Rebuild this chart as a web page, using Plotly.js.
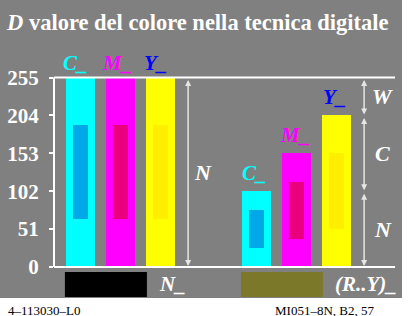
<!DOCTYPE html>
<html><head><meta charset="utf-8">
<script src="https://cdn.plot.ly/plotly-3.0.1.min.js"></script>
<style>html,body{margin:0;padding:0;background:#fff;overflow:hidden}</style>
</head><body><div id="chart" style="width:413px;height:316px"></div>
<script>
// ---- data ----
const barX = [0, 1, 2, 4.4, 5.4, 6.4];
const barValues = [255, 255, 255, 102, 153, 204];
const barColors = ['#00FFFF', '#FF00FF', '#FFFF00', '#00FFFF', '#FF00FF', '#FFFF00'];
const innerLow = [64, 64, 64, 25.5, 38, 51];
const innerHigh = [191, 191, 191, 76.5, 115, 153];
const innerColors = ['#00A8E8', '#E8007E', '#FFEE00', '#00A8E8', '#E8007E', '#FFEE00'];
const yTicks = [0, 51, 102, 153, 204, 255];
const barLabels = ['C_', 'M_', 'Y_'];
const barLabelColors = ['#00FFFF', '#FF00FF', '#0000FF'];
const rightSegments = [[204, 255, 'W'], [102, 204, 'C'], [0, 102, 'N']];
const swatchLabels = ['N_', '(R..Y)_'];
const swatchColors = ['#000000', '#7B782A'];

const SERIF = 'Liberation Serif';
const innerBase = innerLow;
const innerHeight = innerHigh.map((h, i) => h - innerLow[i]);

const traces = [
  {type: 'bar', x: barX, y: barValues, width: 0.725,
   marker: {color: barColors, line: {width: 0}}, hoverinfo: 'skip'},
  {type: 'bar', x: barX, y: innerHeight, base: innerBase, width: 0.375,
   marker: {color: innerColors, line: {width: 0}}, hoverinfo: 'skip'}
];

const shapes = [
  {type: 'rect', xref: 'paper', yref: 'paper', x0: 1.0205, x1: 1.2, y0: -0.2, y1: 1.4,
   fillcolor: '#FFFFFF', line: {width: 0}, layer: 'below'},
  {type: 'rect', xref: 'paper', yref: 'paper', x0: -0.3, x1: 1.2, y0: -0.2, y1: 0,
   fillcolor: '#FFFFFF', line: {width: 0}, layer: 'below'},
  {type: 'line', xref: 'paper', yref: 'y', x0: 0, x1: 1, y0: 0, y1: 0, line: {color: '#FFFFFF', width: 2}},
  {type: 'line', xref: 'paper', yref: 'y', x0: 0, x1: 1, y0: 255, y1: 255, line: {color: '#FFFFFF', width: 2}},
  {type: 'line', xref: 'paper', yref: 'y', x0: 0, x1: 0, y0: 0, y1: 255, line: {color: '#FFFFFF', width: 2}},
  {type: 'rect', xref: 'x', yref: 'y', x0: -0.39, x1: 1.66, y0: -40.4, y1: -6.7,
   fillcolor: swatchColors[0], line: {width: 0}},
  {type: 'rect', xref: 'x', yref: 'y', x0: 4.01, x1: 6.06, y0: -40.4, y1: -6.7,
   fillcolor: swatchColors[1], line: {width: 0}}
];

const bold = (s, c) => ({family: SERIF, size: s, color: c, weight: 'bold'});
const ann = [];
ann.push({xref: 'paper', yref: 'paper', x: -0.147, y: 1.2105, xanchor: 'left', yanchor: 'middle',
  text: '<b><i>D</i> valore del colore nella tecnica digitale</b>', showarrow: false,
  font: bold(22.5, '#FFFFFF')});
const topLabelX = [-0.13, 0.9, 1.88];
barLabels.forEach((t, i) => ann.push({xref: 'x', yref: 'paper', x: topLabelX[i], y: 1.03,
  xanchor: 'center', yanchor: 'middle', text: '<b><i>' + t + '</i></b>', showarrow: false,
  font: bold(21, barLabelColors[i])}));
barLabels.forEach((t, i) => ann.push({xref: 'x', yref: 'y', x: barX[i + 3] - 0.05, y: barValues[i + 3],
  xanchor: 'center', yanchor: 'bottom', yshift: 4, text: '<b><i>' + t + '</i></b>', showarrow: false,
  font: bold(21, barLabelColors[i])}));
ann.push({xref: 'x', yref: 'y', axref: 'x', ayref: 'y', x: 2.69, y: 0, ax: 2.69, ay: 255,
  text: '', showarrow: true, arrowside: 'end+start', arrowhead: 2, arrowsize: 0.8, arrowwidth: 1.5,
  arrowcolor: '#E6E6E6', standoff: 1, startstandoff: 1});
ann.push({xref: 'x', yref: 'y', x: 3.06, y: 127.5, xanchor: 'center', yanchor: 'middle',
  text: '<b><i>N</i></b>', showarrow: false, font: bold(22, '#FFFFFF')});
rightSegments.forEach(s => {
  ann.push({xref: 'x', yref: 'y', axref: 'x', ayref: 'y', x: 7.09, y: s[0], ax: 7.09, ay: s[1],
    text: '', showarrow: true, arrowside: 'end+start', arrowhead: 2, arrowsize: 0.8, arrowwidth: 1.5,
    arrowcolor: '#E6E6E6', standoff: 1, startstandoff: 1});
  ann.push({xref: 'x', yref: 'y', x: 7.56, y: (s[0] + s[1]) / 2, xanchor: 'center', yanchor: 'middle',
    text: '<b><i>' + s[2] + '</i></b>', showarrow: false, font: bold(22, '#FFFFFF')});
});
ann.push({xref: 'x', yref: 'y', x: 1.9, y: -23, xanchor: 'left', yanchor: 'middle',
  text: '<b><i>' + swatchLabels[0] + '</i></b>', showarrow: false, font: bold(21, '#FFFFFF')});
ann.push({xref: 'x', yref: 'y', x: 6.3, y: -23, xanchor: 'left', yanchor: 'middle',
  text: '<b><i>' + swatchLabels[1] + '</i></b>', showarrow: false, font: bold(21, '#FFFFFF')});
ann.push({xref: 'paper', yref: 'paper', x: -0.141, y: -0.057, xanchor: 'left', yanchor: 'middle',
  text: '4\u2013113030\u2013L0', showarrow: false, font: {family: SERIF, size: 13, color: '#000000'}});
ann.push({xref: 'paper', yref: 'paper', x: 0.642, y: -0.057, xanchor: 'left', yanchor: 'middle',
  text: 'MI051\u20138N, B2, 57', showarrow: false, font: {family: SERIF, size: 13, color: '#000000'}});

const layout = {
  width: 413, height: 316,
  margin: {l: 54, r: 18, t: 70, b: 18, pad: 0},
  paper_bgcolor: '#808080', plot_bgcolor: '#808080',
  showlegend: false, barmode: 'overlay', bargap: 0,
  xaxis: {visible: false, range: [-0.6625, 7.8625], fixedrange: true},
  yaxis: {range: [-41.7, 265.1], tickvals: yTicks, ticktext: yTicks.map(String),
    ticks: 'outside', ticklen: 4, tickwidth: 2, tickcolor: '#FFFFFF',
    showgrid: false, zeroline: false, showline: false, ticklabelstandoff: 6,
    tickfont: bold(21, '#FFFFFF'), fixedrange: true},
  shapes: shapes,
  annotations: ann
};

Plotly.newPlot('chart', traces, layout, {staticPlot: true, displayModeBar: false});
</script>
</body></html>
